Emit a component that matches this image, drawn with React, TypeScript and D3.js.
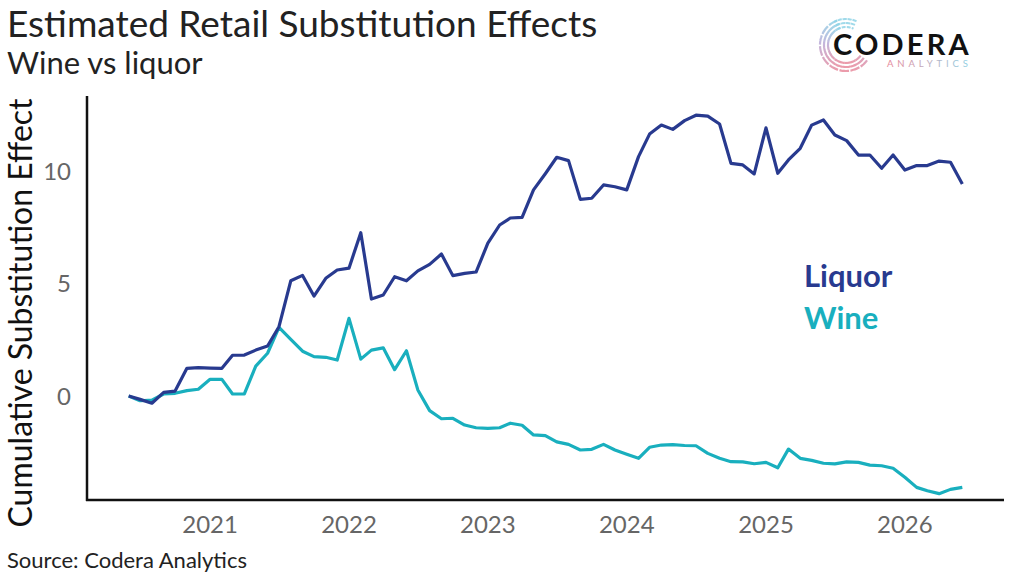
import React from "react";
import * as d3 from "d3";

const startMonth = new Date(2020, 5, 1);
const endMonth = new Date(2026, 5, 1);

const liquor = [
  0, -0.15, -0.32, 0.16, 0.22, 1.23, 1.26, 1.24, 1.23, 1.81, 1.82, 2.04, 2.22,
  3.08, 5.12, 5.36, 4.44, 5.23, 5.6, 5.68, 7.26, 4.31, 4.49, 5.3, 5.12,
  5.56, 5.85, 6.31, 5.35, 5.45, 5.51, 6.79, 7.6, 7.91, 7.94, 9.16, 9.88,
  10.61, 10.46, 8.74, 8.79, 9.38, 9.3, 9.16, 10.64, 11.64, 12.04, 11.85, 12.24,
  12.48, 12.44, 12.09, 10.34, 10.27, 9.87, 11.92, 9.9, 10.49, 11.01, 12.04, 12.27,
  11.6, 11.35, 10.71, 10.71, 10.12, 10.71, 10.04, 10.24, 10.24, 10.44, 10.39, 9.42,
];

const wine = [
  0, -0.21, -0.18, 0.09, 0.12, 0.24, 0.3, 0.74, 0.74, 0.09, 0.09, 1.33, 1.9,
  3.05, 2.52, 1.99, 1.75, 1.72, 1.6, 3.45, 1.64, 2.04, 2.14, 1.17, 2.01,
  0.27, -0.65, -1.01, -0.99, -1.29, -1.41, -1.44, -1.41, -1.21, -1.3, -1.73, -1.76,
  -2.04, -2.15, -2.4, -2.37, -2.15, -2.4, -2.59, -2.77, -2.28, -2.18, -2.16, -2.2,
  -2.21, -2.55, -2.77, -2.92, -2.93, -3.01, -2.95, -3.19, -2.36, -2.77, -2.86, -2.99,
  -3.02, -2.93, -2.95, -3.07, -3.1, -3.21, -3.61, -4.06, -4.21, -4.34, -4.15, -4.06,
];

const yTicks = [0, 5, 10];
const xTickYears = [2021, 2022, 2023, 2024, 2025, 2026];

const LIQUOR_COLOR = "#283a8f";
const WINE_COLOR = "#19afbe";

export default function App() {
  const W = 1024;
  const H = 576;
  const left = 87;
  const right = 1004;
  const top = 96;
  const bottom = 500;

  const months = d3.timeMonth.range(startMonth, d3.timeMonth.offset(endMonth, 1));
  const pad = ((right - left) * 0.05) / 1.1;
  const x = d3.scaleTime().domain([startMonth, endMonth]).range([left + pad, right - pad]);
  const y = d3.scaleLinear().domain([0, 10]).range([396, 171]);

  const line = d3
    .line<number>()
    .x((_, i) => x(months[i]))
    .y((d) => y(d));

  // logo arcs
  const cx = 846;
  const cy = 45;
  const arcsTop = [26, 22, 18].map((r) =>
    d3.arc()({ innerRadius: r, outerRadius: r, startAngle: -Math.PI * 0.15, endAngle: 0.43 } as any)
  );
  const arcsLeft = [26, 22, 18].map((r) =>
    d3.arc()({ innerRadius: r, outerRadius: r, startAngle: Math.PI * 0.7, endAngle: Math.PI * 1.9 } as any)
  );

  return (
    <div style={{ position: "fixed", left: 0, top: 0, width: W, height: H, background: "#fff" }}>
      <svg width={W} height={H} style={{ display: "block", fontFamily: "Lato, sans-serif" }}>
        <defs>
          <linearGradient id="logoGrad" x1="0" y1="0" x2="0" y2="1">
            <stop offset="0%" stopColor="#8fd3e6" />
            <stop offset="45%" stopColor="#b9a9d6" />
            <stop offset="100%" stopColor="#e88a9c" />
          </linearGradient>
          <linearGradient id="textGrad" x1="0" y1="0" x2="1" y2="0">
            <stop offset="0%" stopColor="#e5879a" />
            <stop offset="100%" stopColor="#8fd3e6" />
          </linearGradient>
        </defs>
        <rect width={W} height={H} fill="#fff" />

        {/* Titles */}
        <text x={7} y={37} fontSize={37} fill="#222">
          Estimated Retail Substitution Effects
        </text>
        <text x={7} y={74} fontSize={31} fill="#222">
          Wine vs liquor
        </text>

        {/* Logo */}
        <g transform={`translate(${cx},${cy})`}>
          {arcsLeft.map((a, i) => (
            <path
              key={"l" + i}
              d={a as string}
              fill="none"
              stroke="url(#logoGrad)"
              strokeWidth={2.2}
              strokeDasharray={i === 1 ? "3 2" : "5 2 2 2"}
              opacity={0.85}
            />
          ))}
          {arcsTop.map((a, i) => (
            <path
              key={"t" + i}
              d={a as string}
              fill="none"
              stroke="#8fd3e6"
              strokeWidth={2}
              strokeDasharray="3 2"
              opacity={0.85}
            />
          ))}
        </g>
        <text x={833} y={55} fontSize={29} fontWeight={700} letterSpacing={3.2} fill="#111">
          CODERA
        </text>
        <text x={887} y={67} fontSize={9.5} letterSpacing={3.9} fill="url(#textGrad)">
          ANALYTICS
        </text>

        {/* Axes */}
        <line x1={left} x2={left} y1={top} y2={bottom + 1} stroke="#111" strokeWidth={2.5} />
        <line x1={left - 1} x2={right} y1={bottom} y2={bottom} stroke="#111" strokeWidth={2.5} />

        {yTicks.map((t) => (
          <text key={t} x={71} y={y(t) + 8.5} fontSize={24} fill="#666" textAnchor="end">
            {t}
          </text>
        ))}
        {xTickYears.map((yr) => (
          <text key={yr} x={x(new Date(yr, 0, 1))} y={533} fontSize={24} fill="#666" textAnchor="middle">
            {yr}
          </text>
        ))}

        <text
          transform={`translate(32,${(top + 530) / 2}) rotate(-90)`}
          fontSize={32}
          fill="#111"
          textAnchor="middle"
        >
          Cumulative Substitution Effect
        </text>

        {/* Lines */}
        <path d={line(wine) || ""} fill="none" stroke={WINE_COLOR} strokeWidth={3.2} strokeLinejoin="round" />
        <path d={line(liquor) || ""} fill="none" stroke={LIQUOR_COLOR} strokeWidth={3.2} strokeLinejoin="round" />

        {/* Legend labels */}
        <text x={804} y={287} fontSize={31} fontWeight={700} fill={LIQUOR_COLOR}>
          Liquor
        </text>
        <text x={804} y={329} fontSize={31} fontWeight={700} fill={WINE_COLOR}>
          Wine
        </text>

        <text x={7} y={568} fontSize={22} fill="#222">
          Source: Codera Analytics
        </text>
      </svg>
    </div>
  );
}
